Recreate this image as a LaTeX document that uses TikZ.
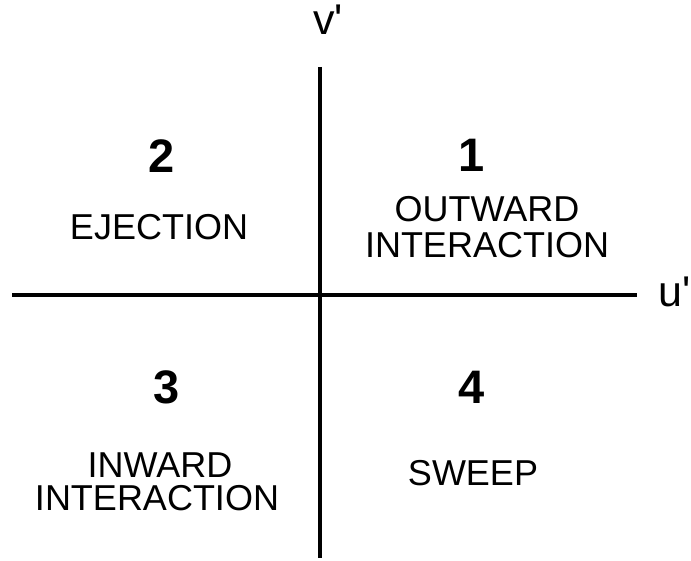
\documentclass[tikz,border=0pt]{standalone}
\usepackage{fontspec}
\setmainfont{Liberation Sans}
\begin{document}
\begin{tikzpicture}[x=1pt,y=-1pt,
  lbl/.style={anchor=base,inner sep=0pt,font=\fontsize{36}{40}\selectfont},
  num/.style={anchor=base,inner sep=0pt,font=\fontsize{47}{52}\selectfont\bfseries},
  axl/.style={anchor=base,inner sep=0pt,font=\fontsize{43}{48}\selectfont},
  axis/.style={line width=4.5pt}]
\useasboundingbox (0,0) rectangle (691,561);
\node[axl] (vl) at (328,35) {v\textquotesingle};
\node[axl] (ul) at (675,307) {u\textquotesingle};
\coordinate (vt) at (320,67);
\coordinate (vb) at (320,558);
\coordinate (hl) at (12,295);
\coordinate (hr) at (637,295);
\draw[line width=4pt] (vt) -- (vb);
\draw[axis] (hl) -- (hr);
\node[num] (n2) at (162,173) {2};
\node[lbl] (ej) at (159,240) {EJECTION};
\node[num] (n1) at (472,172) {1};
\node[lbl] (ow) at (487,222) {OUTWARD};
\node[lbl] (oi) at (487,258) {INTERACTION};
\node[num] (n3) at (167,403) {3};
\node[lbl] (iw) at (160,477) {INWARD};
\node[lbl] (ii) at (157,510) {INTERACTION};
\node[num] (n4) at (472,403) {4};
\node[lbl] (sw) at (473,485) {SWEEP};
\end{tikzpicture}
\end{document}
